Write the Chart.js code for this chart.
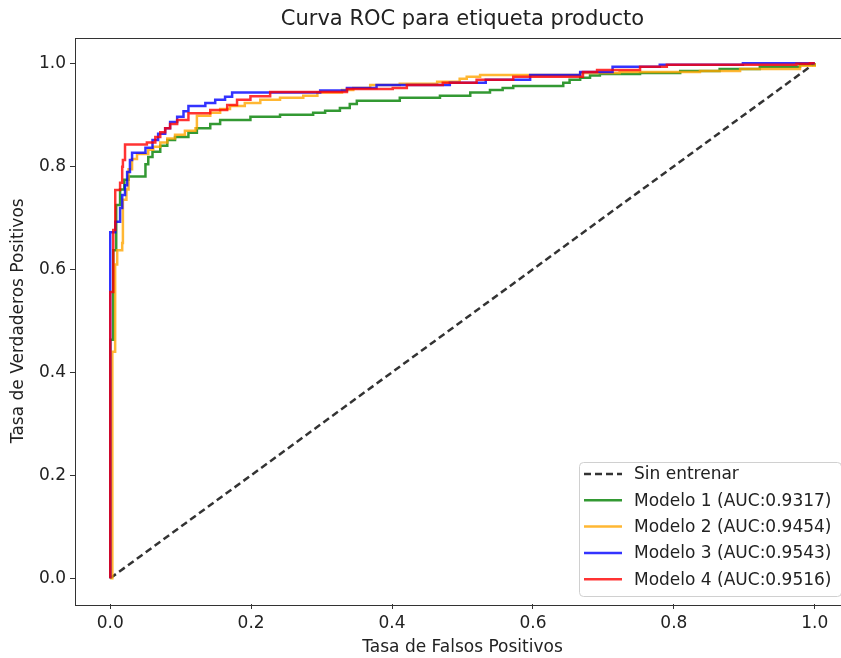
<!DOCTYPE html>
<html>
<head>
<meta charset="utf-8">
<script src="https://cdn.jsdelivr.net/npm/chart.js@4.4.1/dist/chart.umd.min.js"></script>
<style>
  html, body { margin: 0; padding: 0; background: #fff; overflow: hidden; }
  #wrap { width: 841px; height: 658px; overflow: hidden; }
</style>
</head>
<body>
<div id="wrap"><canvas id="roc" width="856" height="658"></canvas></div>
<script>
// ROC points (fpr where the curve steps up, tpr after the step)
const baseFpr = [0, 1];
const baseTpr = [0, 1];

const m1Fpr = [0, 0, 0.0043, 0.0085, 0.014, 0.020, 0.026, 0.050, 0.054, 0.060, 0.071, 0.081, 0.092, 0.111, 0.123, 0.142, 0.156, 0.199, 0.241, 0.288, 0.305, 0.326, 0.340, 0.350, 0.411, 0.468, 0.511, 0.539, 0.557, 0.572, 0.643, 0.652, 0.667, 0.681, 0.695, 0.752, 0.809, 0.865, 0.922, 0.979, 1];
const m1Tpr = [0, 0.463, 0.637, 0.725, 0.755, 0.774, 0.780, 0.804, 0.818, 0.828, 0.840, 0.851, 0.857, 0.865, 0.874, 0.882, 0.890, 0.896, 0.900, 0.904, 0.908, 0.913, 0.921, 0.927, 0.933, 0.937, 0.943, 0.948, 0.952, 0.956, 0.962, 0.968, 0.972, 0.976, 0.979, 0.981, 0.985, 0.989, 0.993, 0.997, 1];

const m2Fpr = [0, 0.003, 0.007, 0.0099, 0.017, 0.018, 0.023, 0.026, 0.031, 0.038, 0.054, 0.061, 0.071, 0.081, 0.092, 0.106, 0.121, 0.123, 0.142, 0.156, 0.170, 0.191, 0.213, 0.241, 0.274, 0.294, 0.329, 0.345, 0.369, 0.411, 0.464, 0.496, 0.506, 0.525, 0.667, 0.723, 0.837, 0.894, 0.979, 1];
const m2Tpr = [0, 0.440, 0.609, 0.637, 0.651, 0.735, 0.755, 0.794, 0.814, 0.824, 0.832, 0.838, 0.846, 0.854, 0.861, 0.869, 0.874, 0.898, 0.904, 0.911, 0.917, 0.923, 0.929, 0.933, 0.937, 0.943, 0.948, 0.952, 0.958, 0.960, 0.964, 0.970, 0.974, 0.977, 0.981, 0.983, 0.985, 0.989, 0.995, 1];

const m3Fpr = [0, 0, 0.0071, 0.014, 0.017, 0.021, 0.024, 0.028, 0.031, 0.050, 0.060, 0.068, 0.078, 0.085, 0.095, 0.104, 0.111, 0.135, 0.149, 0.163, 0.173, 0.298, 0.336, 0.378, 0.482, 0.533, 0.596, 0.667, 0.713, 0.780, 0.898, 1];
const m3Tpr = [0, 0.672, 0.692, 0.719, 0.744, 0.763, 0.789, 0.812, 0.826, 0.836, 0.851, 0.863, 0.874, 0.886, 0.896, 0.907, 0.917, 0.923, 0.929, 0.935, 0.943, 0.947, 0.952, 0.958, 0.962, 0.968, 0.977, 0.983, 0.993, 0.997, 1, 1];

const m4Fpr = [0, 0, 0.0043, 0.0071, 0.014, 0.017, 0.018, 0.021, 0.052, 0.064, 0.071, 0.078, 0.085, 0.095, 0.111, 0.142, 0.166, 0.180, 0.199, 0.227, 0.336, 0.401, 0.421, 0.472, 0.520, 0.572, 0.671, 0.691, 0.752, 0.790, 0.974, 0.993, 1];
const m4Tpr = [0, 0.556, 0.676, 0.754, 0.768, 0.799, 0.812, 0.842, 0.846, 0.857, 0.866, 0.874, 0.882, 0.890, 0.903, 0.909, 0.919, 0.929, 0.936, 0.944, 0.950, 0.952, 0.958, 0.962, 0.968, 0.974, 0.983, 0.987, 0.993, 0.997, 0.999, 1, 1];

const labels = ['Sin entrenar', 'Modelo 1 (AUC:0.9317)', 'Modelo 2 (AUC:0.9454)', 'Modelo 3 (AUC:0.9543)', 'Modelo 4 (AUC:0.9516)'];
const colors = ['rgba(0,0,0,0.8)', 'rgba(0,128,0,0.8)', 'rgba(255,165,0,0.8)', 'rgba(0,0,255,0.8)', 'rgba(255,0,0,0.8)'];

const xTicks = [0, 0.2, 0.4, 0.6, 0.8, 1.0];
const yTicks = [0, 0.2, 0.4, 0.6, 0.8, 1.0];

const FONT = "'DejaVu Sans', sans-serif";

function pts(xs, ys) {
    return xs.map((x, i) => ({ x: x, y: ys[i] }));
}

const series = [
    pts(baseFpr, baseTpr),
    pts(m1Fpr, m1Tpr),
    pts(m2Fpr, m2Tpr),
    pts(m3Fpr, m3Tpr),
    pts(m4Fpr, m4Tpr)
];

// matplotlib style frame (all four spines) + legend in lower right
const framePlugin = {
    id: 'frame',
    afterDatasetsDraw(chart) {
        const a = chart.chartArea;
        const ctx = chart.ctx;
        ctx.save();
        ctx.strokeStyle = '#333';
        ctx.lineWidth = 1;
        ctx.strokeRect(Math.round(a.left) + 0.5, Math.round(a.top) + 0.5,
            Math.round(a.right - a.left), Math.round(a.bottom - a.top));

        // legend
        const bx = 579, by = 462, bw = 262, bh = 134;
        ctx.beginPath();
        ctx.roundRect(bx + 0.5, by + 0.5, bw, bh, 4);
        ctx.fillStyle = 'rgba(255,255,255,0.8)';
        ctx.fill();
        ctx.strokeStyle = '#d0d0d0';
        ctx.stroke();

        ctx.font = '17px ' + FONT;
        ctx.textBaseline = 'middle';
        chart.data.datasets.forEach((ds, i) => {
            const y = by + 12 + i * 26.3;
            ctx.beginPath();
            ctx.strokeStyle = ds.borderColor;
            ctx.lineWidth = ds.borderWidth;
            ctx.setLineDash(ds.borderDash || []);
            ctx.moveTo(584, y);
            ctx.lineTo(622, y);
            ctx.stroke();
            ctx.setLineDash([]);
            ctx.fillStyle = '#222';
            ctx.fillText(ds.label, 634, y + 1);
        });
        ctx.restore();
    }
};

document.addEventListener('DOMContentLoaded', function () {
    const ctx = document.getElementById('roc').getContext('2d');

    new Chart(ctx, {
        type: 'line',
        data: {
            datasets: series.map((d, i) => ({
                label: labels[i],
                data: d,
                borderColor: colors[i],
                backgroundColor: colors[i],
                borderWidth: 2.5,
                borderDash: i === 0 ? [7, 4] : [],
                stepped: i === 0 ? false : 'before',
                pointRadius: 0,
                tension: 0,
                fill: false,
                order: 5 - i
            }))
        },
        options: {
            responsive: false,
            animation: false,
            layout: { padding: { left: 0, right: 6, top: 0, bottom: 0 } },
            scales: {
                x: {
                    type: 'linear',
                    min: -0.05,
                    max: 1.05,
                    afterBuildTicks: s => { s.ticks = xTicks.map(v => ({ value: v })); },
                    afterFit: s => { s.height = 54; },
                    ticks: {
                        callback: v => v.toFixed(1),
                        font: { family: FONT, size: 17 },
                        color: '#222',
                        padding: 4,
                        maxRotation: 0
                    },
                    grid: { drawOnChartArea: false, drawTicks: true, tickLength: 5, color: '#333' },
                    border: { display: false },
                    title: {
                        display: true,
                        text: 'Tasa de Falsos Positivos',
                        font: { family: FONT, size: 17 },
                        color: '#222',
                        padding: { top: 0, bottom: 0 }
                    }
                },
                y: {
                    type: 'linear',
                    min: -0.05,
                    max: 1.05,
                    afterBuildTicks: s => { s.ticks = yTicks.map(v => ({ value: v })); },
                    afterFit: s => { s.width = 75; },
                    ticks: {
                        callback: v => v.toFixed(1),
                        font: { family: FONT, size: 17 },
                        color: '#222',
                        padding: 4
                    },
                    grid: { drawOnChartArea: false, drawTicks: true, tickLength: 5, color: '#333' },
                    border: { display: false },
                    title: {
                        display: true,
                        text: 'Tasa de Verdaderos Positivos',
                        font: { family: FONT, size: 17 },
                        color: '#222',
                        padding: { top: 8, bottom: 0 }
                    }
                }
            },
            plugins: {
                legend: { display: false },
                tooltip: { enabled: false },
                title: {
                    display: true,
                    fullSize: false,
                    text: 'Curva ROC para etiqueta producto',
                    font: { family: FONT, size: 21, weight: 'normal' },
                    color: '#222',
                    padding: { top: 7.4, bottom: 4.9 }
                }
            }
        },
        plugins: [framePlugin]
    });
});
</script>
</body>
</html>
